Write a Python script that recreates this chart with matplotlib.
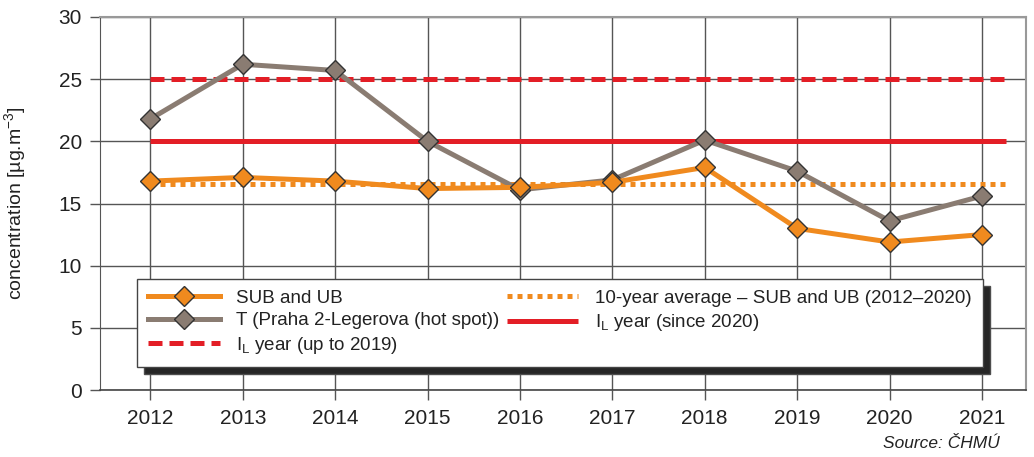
import matplotlib
matplotlib.use('Agg')
from matplotlib import pyplot as plt

plt.rcParams['font.family'] = ['Liberation Sans', 'DejaVu Sans']
plt.rcParams['mathtext.fontset'] = 'custom'
plt.rcParams['mathtext.rm'] = 'Liberation Sans'
plt.rcParams['mathtext.it'] = 'Liberation Sans:italic'

years = [2012, 2013, 2014, 2015, 2016, 2017, 2018, 2019, 2020, 2021]
sub_ub = [16.8, 17.1, 16.8, 16.2, 16.3, 16.7, 17.9, 13.0, 11.9, 12.5]
hot_spot = [21.8, 26.2, 25.7, 20.0, 16.1, 16.9, 20.1, 17.6, 13.6, 15.6]
avg_10y = 16.6
limit_old = 25
limit_new = 20
line_end = 2021.26

orange = '#f08a1e'
grey = '#8a7c72'
red = '#e31e26'

fig = plt.figure(figsize=(10.34, 4.57), dpi=100)
ax = fig.add_axes([100 / 1034, 1 - 390 / 457, 926 / 1034, 373 / 457])

ax.plot([years[0], line_end], [limit_old, limit_old], color=red, lw=3.6,
        dashes=(2.8, 1.4), solid_capstyle='butt', label=r'I$_\mathrm{L}$ year (up to 2019)', zorder=3)
ax.plot([years[0], line_end], [avg_10y, avg_10y], color=orange, lw=3.6,
        dashes=(1.0, 1.0), label='10-year average – SUB and UB (2012–2020)', zorder=3)
ax.plot([years[0], line_end], [limit_new, limit_new], color=red, lw=3.6,
        solid_capstyle='butt', label=r'I$_\mathrm{L}$ year (since 2020)', zorder=3)
ax.plot(years, hot_spot, color=grey, lw=3.6, marker='D', ms=10, mfc=grey,
        mec='#333333', mew=1, label='T (Praha 2-Legerova (hot spot))', zorder=4)
ax.plot(years, sub_ub, color=orange, lw=3.6, marker='D', ms=10, mfc=orange,
        mec='#333333', mew=1, label='SUB and UB', zorder=5)

ax.set_xlim(2011.455, 2021.477)
ax.set_ylim(0, 30)
ax.set_xticks(years)
ax.set_yticks(range(0, 31, 5))
ax.grid(True, color='#555555', lw=1.0)
ax.set_axisbelow(True)
for side in ['top', 'right']:
    ax.spines[side].set_color('#999999')
    ax.spines[side].set_linewidth(1.5)
ax.spines['left'].set_color('#555555')
ax.spines['bottom'].set_color('#444444')
ax.spines['bottom'].set_linewidth(1.2)
ax.tick_params(axis='both', labelsize=15, colors='#222222', length=7, width=1, color='#555555')
ax.tick_params(axis='y', pad=6)
ax.tick_params(axis='x', pad=7)

ax.set_ylabel(r'concentration [µg.m$^{-3}$]', fontsize=14, color='#222222', labelpad=22)

handles, labels = ax.get_legend_handles_labels()
order = [4, 3, 0, 1, 2]
leg = ax.legend([handles[i] for i in order], [labels[i] for i in order],
                ncol=2, loc='lower left', mode='expand',
                bbox_to_anchor=(0.040, 0.062, 0.9135, 0.24), borderaxespad=0,
                fontsize=13.5, handlelength=3.8, handletextpad=0.9,
                labelspacing=0.28, borderpad=0.6, fancybox=False,
                framealpha=1, edgecolor='#444444',
                shadow={'ox': 5, 'oy': -5, 'facecolor': '#262626', 'alpha': 1})
leg.get_frame().set_linewidth(1.0)
for t in leg.get_texts():
    t.set_color('#222222')

fig.text(1000 / 1034, 1 - 444 / 457, 'Source: ČHMÚ', fontsize=12.5, style='italic',
         ha='right', va='center', color='#222222')

fig.savefig('out.png', dpi=100)
